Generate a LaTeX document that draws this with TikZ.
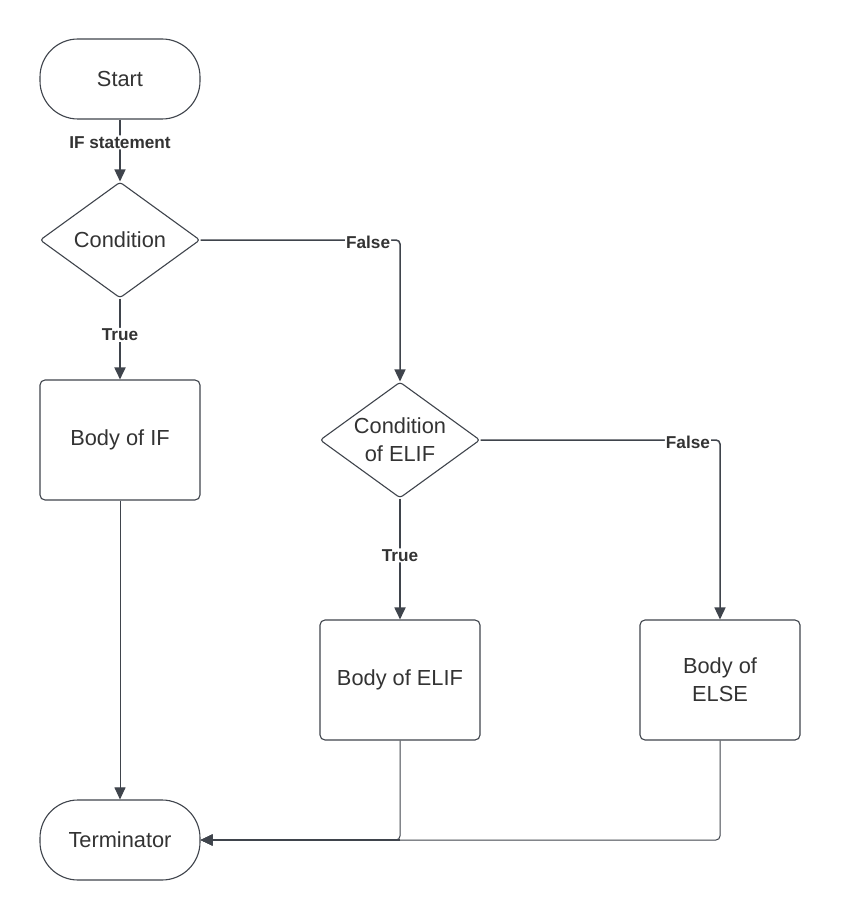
\documentclass[tikz,border=0pt]{standalone}
\usepackage{fontspec}
\setmainfont{Liberation Sans}
\usetikzlibrary{shapes.geometric,arrows.meta}
\definecolor{edge}{HTML}{3F444C}
\definecolor{txt}{HTML}{333333}
\begin{document}
\begin{tikzpicture}[x=1pt,y=-1pt,
  base/.style={draw=edge,line width=1.1pt,text=txt,font=\fontsize{21.8}{28}\selectfont,align=center},
  term/.style={base,rectangle,minimum width=160pt,minimum height=80pt,rounded corners=38pt},
  boxnode/.style={base,rectangle,minimum width=160pt,minimum height=120pt,rounded corners=5pt},
  decision/.style={base,diamond,minimum width=160pt,minimum height=116pt,shape aspect=1.38,inner sep=-4pt,rounded corners=3pt},
  conn/.style={draw=edge,line width=1.8pt,-{Triangle[length=12pt,width=11pt]},rounded corners=4pt},
  thinconn/.style={draw=edge,line width=1pt,-{Triangle[length=12pt,width=11pt]},rounded corners=4pt},
  lbl/.style={fill=white,text=txt,font=\fontsize{17.2}{20}\selectfont\bfseries,inner sep=1pt}]
\useasboundingbox[fill=white] (0,0) rectangle (840,920);

\node[term] (start) at (120,79) {Start};
\node[decision] (c1) at (120,240) {Condition};
\node[boxnode] (b1) at (120,440) {Body of IF};
\node[decision] (c2) at (400,440) {Condition\\of ELIF};
\node[boxnode] (b2) at (400,680) {Body of ELIF};
\node[boxnode] (b3) at (720,680) {Body of\\ELSE};
\node[term] (t) at (120,840) {Terminator};
\coordinate (j) at (b2.south |- t.east);

\draw[conn,line width=1.5pt] (start.south) -- node[lbl,pos=0.37] (l1) {IF statement} (c1.north);
\draw[conn] (c1.south) -- node[lbl,pos=0.45] (l2) {True} (b1.north);
\draw[conn,line width=1.5pt] (c1.east) -| node[lbl,pos=0.42,yshift=-2pt] (l3) {False} (c2.north);
\draw[conn] (c2.south) -- node[lbl,pos=0.47] (l4) {True} (b2.north);
\draw[conn,line width=1.5pt] (c2.east) -| node[lbl,pos=0.433,yshift=-2pt] (l5) {False} (b3.north);
\draw[thinconn] (b1.south) -- (t.north);
\draw[thinconn] (b3.south) |- (t.east);
\draw[thinconn] (b2.south) |- (t.east);
\draw[draw=edge,line width=2pt,-{Triangle[length=12pt,width=11pt]}] (j) -- (t.east);
\end{tikzpicture}
\end{document}
